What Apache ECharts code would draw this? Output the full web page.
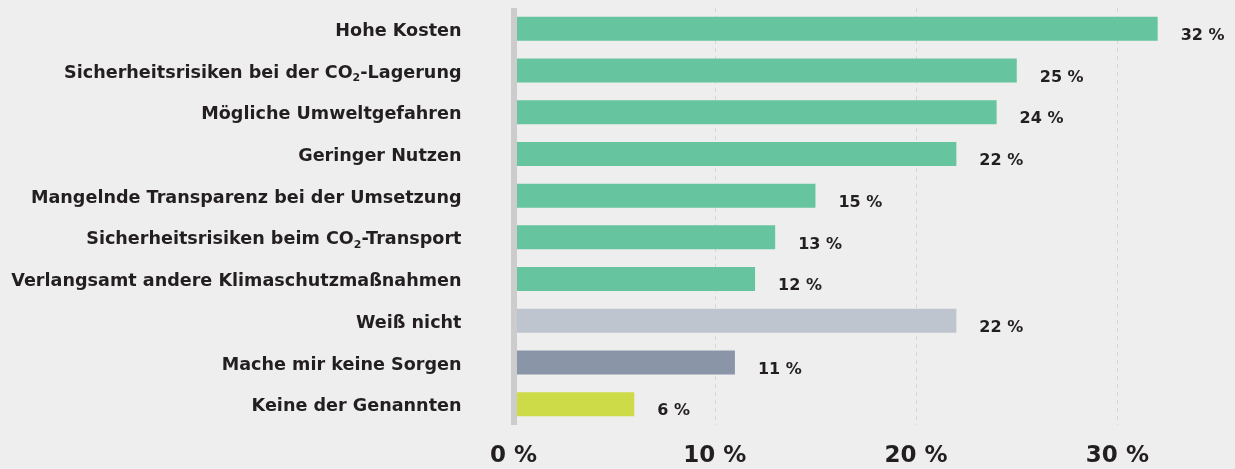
<!DOCTYPE html>
<html>
<head>
<meta charset="utf-8">
<style>
  html, body { margin: 0; padding: 0; background: #eeeeee; }
  #chart { width: 1235px; height: 469px; }
</style>
<script src="https://cdn.jsdelivr.net/npm/echarts@6/dist/echarts.min.js"></script>
</head>
<body>
<div id="chart"></div>
<script>
  // Kategorien (von oben nach unten)
  const categories = [
    'Hohe Kosten',
    'Sicherheitsrisiken bei der CO{sub|2}-Lagerung',
    'Mögliche Umweltgefahren',
    'Geringer Nutzen',
    'Mangelnde Transparenz bei der Umsetzung',
    'Sicherheitsrisiken beim CO{sub|2}-Transport',
    'Verlangsamt andere Klimaschutzmaßnahmen',
    'Weiß nicht',
    'Mache mir keine Sorgen',
    'Keine der Genannten'
  ];
  const values = [32, 25, 24, 22, 15, 13, 12, 22, 11, 6];
  const barColors = [
    '#66c49e', '#66c49e', '#66c49e', '#66c49e', '#66c49e', '#66c49e', '#66c49e',
    '#bec5cf', '#8a96a8', '#cddb48'
  ];
  const xTicks = [0, 10, 20, 30];

  const FONT = '"DejaVu Sans", sans-serif';
  const TEXT = '#231f20';
  const PX_PER_PCT = 20.13;

  const chart = echarts.init(document.getElementById('chart'), null, { renderer: 'canvas' });

  chart.setOption({
    backgroundColor: '#eeeeee',
    animation: false,
    grid: {
      left: 513.5,
      top: 8,
      height: 417,
      width: 40 * PX_PER_PCT,
      outerBoundsMode: 'none',
      containLabel: false
    },
    xAxis: {
      type: 'value',
      min: 0,
      max: 40,
      interval: 10,
      axisLine: { show: false },
      axisTick: { show: false },
      splitLine: {
        show: true,
        lineStyle: { color: '#d6d6d6', width: 1, type: [4, 4] }
      },
      axisLabel: {
        margin: 20,
        fontFamily: FONT,
        fontWeight: 700,
        fontSize: 23,
        color: TEXT,
        formatter: function (v) {
          return xTicks.indexOf(v) >= 0 ? v + ' %' : '';
        }
      }
    },
    yAxis: {
      type: 'category',
      inverse: true,
      data: categories,
      z: 3,
      axisTick: { show: false },
      axisLine: {
        show: true,
        lineStyle: { color: '#cccccc', width: 6, cap: 'butt' }
      },
      axisLabel: {
        margin: 52,
        padding: [5, 0, 0, 0],
        fontFamily: FONT,
        fontWeight: 700,
        fontSize: 17.6,
        color: TEXT,
        rich: {
          sub: {
            fontFamily: FONT,
            fontWeight: 700,
            fontSize: 11,
            color: TEXT,
            padding: [11, 0, 0, 0]
          }
        }
      }
    },
    series: [{
      type: 'bar',
      barWidth: 24,
      data: values.map(function (v, i) {
        return { value: v, itemStyle: { color: barColors[i] } };
      }),
      label: {
        show: true,
        position: 'right',
        distance: 23,
        offset: [0, 7],
        fontFamily: FONT,
        fontWeight: 700,
        fontSize: 16,
        color: TEXT,
        formatter: '{c} %'
      }
    }]
  });
</script>
</body>
</html>
